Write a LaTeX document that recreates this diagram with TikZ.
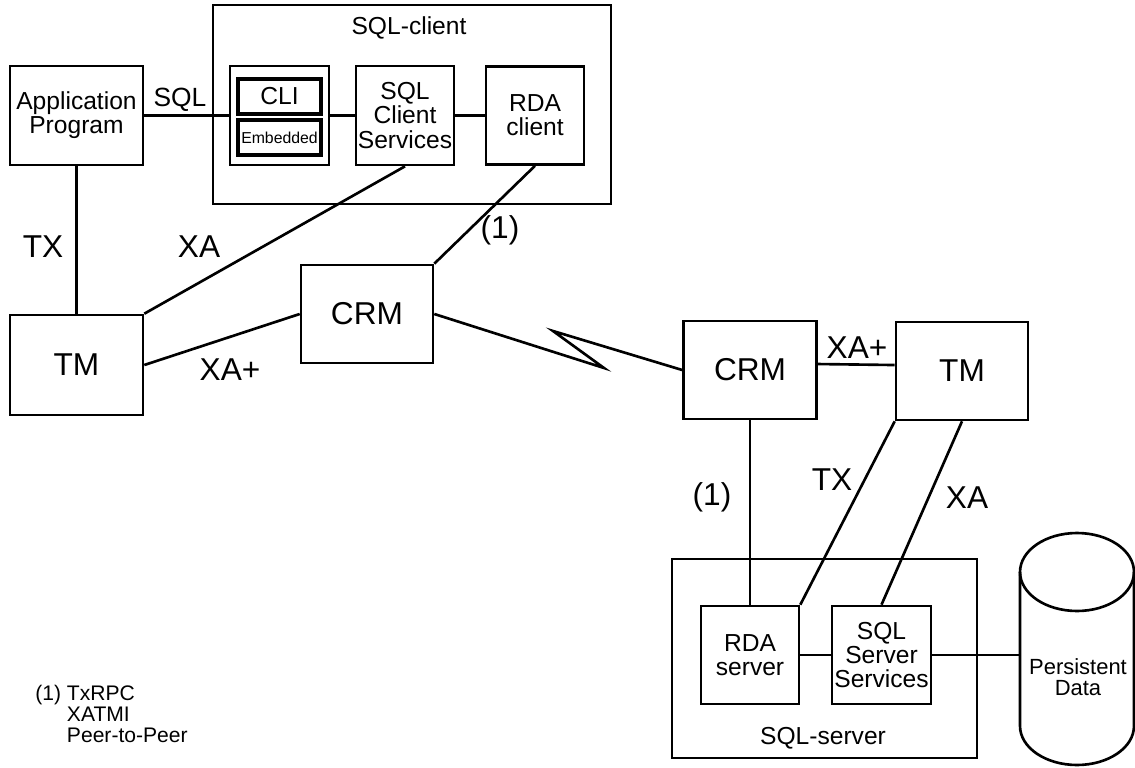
\documentclass[tikz,border=0pt]{standalone}
\usepackage{fontspec}
\setmainfont{Liberation Sans}
\tikzset{
  box/.style={draw, line width=1.5pt, inner sep=0pt, align=center,
    minimum width=1.96cm, minimum height=1.96cm,
    font=\fontsize{14}{13.8}\selectfont},
  bigbox/.style={box, minimum width=2.64cm, font=\fontsize{18}{20}\selectfont},
  frame/.style={draw, line width=1.5pt, inner sep=0pt},
  inbox/.style={draw, line width=2.2pt, inner sep=0pt,
    minimum width=1.66cm, minimum height=0.70cm},
  lbl/.style={inner sep=0pt, font=\fontsize{18}{20}\selectfont},
  title/.style={inner sep=0pt, font=\fontsize{14}{13.8}\selectfont},
  wire/.style={line width=1.5pt},
}
\begin{document}
\begin{tikzpicture}[x=0.02cm, y=-0.02cm]
  \useasboundingbox (0,0) rectangle (1135,767);
  \path
    (412,104.5) node[frame, minimum width=7.96cm, minimum height=3.98cm] (client) {}
    (824.5,658.5) node[frame, minimum width=6.10cm, minimum height=3.98cm] (server) {}
    (76.5,115.5) node[box, minimum width=2.66cm, minimum height=1.98cm] (app) {Application\\Program}
    (279.5,115.5) node[box, minimum width=1.98cm, minimum height=1.98cm] (api) {}
    (279.5,96.5) node[inbox, font=\fontsize{14}{14}\selectfont] (cli) {CLI}
    (279.5,137.5) node[inbox, font=\fontsize{9}{9}\selectfont] (emb) {Embedded}
    (405,115.5) node[box, minimum height=1.98cm] (scs) {SQL\\Client\\Services}
    (535,115.5) node[box] (rdac) {RDA\\client}
    (76.5,365) node[bigbox, minimum width=2.66cm, minimum height=2.0cm] (tm1) {TM}
    (367,314) node[bigbox] (crm1) {CRM}
    (750,370) node[bigbox, minimum width=2.66cm] (crm2) {CRM}
    (962,371) node[bigbox] (tm2) {TM}
    (750,655) node[box] (rdas) {RDA\\server}
    (881.5,655) node[box, minimum width=1.98cm] (sss) {SQL\\Server\\Services}
    (1078,677) node[title, align=center, font=\fontsize{12.5}{12}\selectfont] (data) {Persistent\\Data};
  \path
    (409,28) node[title] (clienttitle) {SQL-client}
    (823,738) node[title] (servertitle) {SQL-server}
    (180,100) node[lbl, font=\fontsize{15}{15}\selectfont] (lsql) {SQL}
    (43,247) node[lbl] (ltx1) {TX}
    (199,247) node[lbl] (lxa1) {XA}
    (230,370) node[lbl] (lxap1) {XA+}
    (500,230) node[lbl] (lone1) {(1)}
    (857,348) node[lbl] (lxap2) {XA+}
    (712,497) node[lbl] (lone2) {(1)}
    (832,480) node[lbl] (ltx2) {TX}
    (967,498) node[lbl] (lxa2) {XA}
    (35,714) node[anchor=west, inner sep=0pt, align=left,
      font=\fontsize{12}{11.9}\selectfont] (legend)
      {(1) TxRPC\\\hphantom{(1) }XATMI\\\hphantom{(1) }Peer-to-Peer};
  \coordinate (zz1) at (604,368);
  \coordinate (zz2) at (553,331);
  \coordinate (dbin) at (1020,655);
  \draw[wire] (1020,572) -- (1020,726)
    arc[start angle=180, end angle=360, x radius=1.14cm, y radius=0.78cm]
    -- (1134,572);
  \draw[wire] (1077,572) ellipse [x radius=1.14cm, y radius=0.78cm];
  \begin{scope}[wire]
    \draw (app) to (api);
    \draw (api) to (scs);
    \draw (scs) to (rdac);
    \draw (app) to (tm1);
    \draw (tm1.north east) to (scs.south);
    \draw (tm1.east) to (crm1.west);
    \draw (rdac.south) to (crm1.north east);
    \draw (crm1.east) -- (zz1) -- (zz2) -- (crm2.west);
    \draw ([yshift=3.4pt]crm2.east) to ([yshift=3.4pt]tm2.west);
    \draw (crm2) to (rdas);
    \draw (tm2.south west) to (rdas.north east);
    \draw (tm2.south) to (sss.north);
    \draw (rdas) to (sss);
    \draw (sss) to (dbin);
  \end{scope}
\end{tikzpicture}
\end{document}
